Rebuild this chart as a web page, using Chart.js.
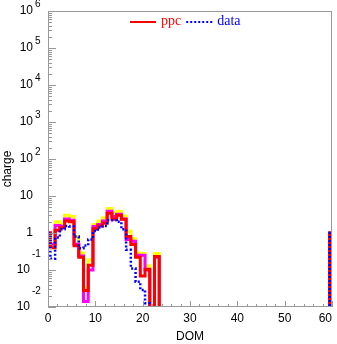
<!DOCTYPE html>
<html>
<head>
<meta charset="utf-8">
<script src="https://cdn.jsdelivr.net/npm/chart.js@4/dist/chart.umd.min.js"></script>
<style>
  html, body { margin: 0; padding: 0; background: #fff; }
</style>
</head>
<body>
<canvas id="chart" width="337" height="344"></canvas>
<script>
// charge per DOM (index = DOM number 0..60), 0 = empty bin
const ppc = [1.0, 0.4, 1.18, 1.39, 2.1, 2.0, 0.45, 0.22, 0.028, 0.135,
    1.31, 1.55, 1.83, 3.4, 2.34, 3.0, 2.34, 0.8, 0.49, 0.22,
    0.069, 0.105, 0, 0.23, 0, 0, 0, 0, 0, 0,
    0, 0, 0, 0, 0, 0, 0, 0, 0, 0,
    0, 0, 0, 0, 0, 0, 0, 0, 0, 0,
    0, 0, 0, 0, 0, 0, 0, 0, 0, 0,
    1.0];
const bandMagenta = [1.0, 0.5, 1.6, 1.5, 2.4, 2.2, 0.5, 0.24, 0.014, 0.1,
    1.5, 1.7, 2.1, 3.9, 2.8, 3.2, 2.4, 0.67, 0.6, 0.25,
    0.25, 0.1, 0, 0.22, 0, 0, 0, 0, 0, 0,
    0, 0, 0, 0, 0, 0, 0, 0, 0, 0,
    0, 0, 0, 0, 0, 0, 0, 0, 0, 0,
    0, 0, 0, 0, 0, 0, 0, 0, 0, 0,
    1.0];
const bandYellow = [1.0, 0.45, 2.0, 1.7, 3.0, 2.8, 0.8, 0.29, 0.033, 0.19,
    1.7, 2.1, 2.6, 4.6, 3.5, 3.9, 2.9, 1.13, 0.7, 0.29,
    0.28, 0.13, 0, 0.28, 0, 0, 0, 0, 0, 0,
    0, 0, 0, 0, 0, 0, 0, 0, 0, 0,
    0, 0, 0, 0, 0, 0, 0, 0, 0, 0,
    0, 0, 0, 0, 0, 0, 0, 0, 0, 0,
    1.0];
const data = [1.0, 0.2, 0.75, 1.26, 1.55, 1.5, 0.8, 0.39, 0.46, 0.67,
    1.13, 1.4, 1.55, 2.2, 2.2, 2.0, 1.26, 0.35, 0.11, 0.048,
    0.029, 0.0126, 0, 0, 0, 0, 0, 0, 0, 0,
    0, 0, 0, 0, 0, 0, 0, 0, 0, 0,
    0, 0, 0, 0, 0, 0, 0, 0, 0, 0,
    0, 0, 0, 0, 0, 0, 0, 0, 0, 0,
    1.0];

const xTicks = [0, 10, 20, 30, 40, 50, 60];
const yDecades = [-2, -1, 0, 1, 2, 3, 4, 5, 6];

const FLOOR = 1e-3; // empty bins drawn below the axis
function toPoints(arr) {
    return arr.map((v, i) => ({ x: i, y: v > 0 ? v : FLOOR }));
}

function histo(label, arr, color, width, dash, order, inLegend) {
    return {
        label: label,
        data: toPoints(arr),
        borderColor: color,
        borderWidth: width,
        borderDash: dash,
        stepped: 'middle',
        pointRadius: 0,
        fill: false,
        clip: 0,
        order: order,
        inLegend: inLegend
    };
}

const SANS = '"Liberation Sans", Arial, sans-serif';
const SERIF = '"Liberation Serif", "Times New Roman", serif';

// frame, inward ticks, tick labels, y title and legend in ROOT style
const rootStyle = {
    id: 'rootStyle',
    afterDraw(chart) {
        const { ctx, chartArea: a, scales: { x, y } } = chart;
        ctx.save();
        ctx.strokeStyle = '#999';
        ctx.lineWidth = 1;
        ctx.setLineDash([]);
        ctx.strokeRect(a.left + 0.5, a.top + 0.5, a.right - a.left - 1, a.bottom - a.top - 1);

        ctx.beginPath();
        for (let v = 0; v <= 60; v += 2) {
            const px = Math.round(x.getPixelForValue(v)) + 0.5;
            const len = v % 10 === 0 ? 6 : 3;
            ctx.moveTo(px, a.bottom);
            ctx.lineTo(px, a.bottom - len);
        }
        yDecades.forEach(e => {
            const py = Math.round(y.getPixelForValue(Math.pow(10, e))) + 0.5;
            ctx.moveTo(a.left, py);
            ctx.lineTo(a.left + 8, py);
            if (e < 6) {
                for (let m = 2; m <= 9; m++) {
                    const pm = Math.round(y.getPixelForValue(m * Math.pow(10, e))) + 0.5;
                    ctx.moveTo(a.left, pm);
                    ctx.lineTo(a.left + 4, pm);
                }
            }
        });
        ctx.stroke();

        // x tick labels
        ctx.fillStyle = '#000';
        ctx.font = '12px ' + SANS;
        ctx.textBaseline = 'middle';
        xTicks.forEach(v => {
            const px = x.getPixelForValue(v);
            const s = String(v);
            const w = ctx.measureText(s).width;
            ctx.textAlign = px + w / 2 > a.right ? 'right' : 'center';
            ctx.fillText(s, ctx.textAlign === 'right' ? a.right : px, 319);
        });

        // y tick labels: 1, 10, 10^n
        yDecades.forEach(e => {
            const py = y.getPixelForValue(Math.pow(10, e));
            ctx.font = '12px ' + SANS;
            ctx.textAlign = 'right';
            if (e === 0 || e === 1) {
                ctx.fillText(e === 0 ? '1' : '10', 33, py);
                return;
            }
            const baseRight = e > 0 ? 33 : 30;
            ctx.fillText('10', baseRight, py);
            ctx.font = '10px ' + SANS;
            ctx.textAlign = 'left';
            ctx.fillText(String(e), baseRight + 2, e > 0 ? py - 7 : py - 16);
        });

        // y title
        ctx.save();
        ctx.translate(8, 169);
        ctx.rotate(-Math.PI / 2);
        ctx.font = '12px ' + SANS;
        ctx.textAlign = 'center';
        ctx.textBaseline = 'middle';
        ctx.fillText('charge', 0, 0);
        ctx.restore();

        // legend
        const items = chart.data.datasets.filter(d => d.inLegend);
        let lx = 130;
        const ly = 22;
        items.forEach(d => {
            ctx.strokeStyle = d.borderColor;
            ctx.lineWidth = 2;
            ctx.setLineDash(d.borderDash || []);
            ctx.beginPath();
            ctx.moveTo(lx, ly);
            ctx.lineTo(lx + 26, ly);
            ctx.stroke();
            ctx.setLineDash([]);
            ctx.font = '14px ' + SERIF;
            ctx.fillStyle = d.borderColor;
            ctx.textAlign = 'left';
            ctx.textBaseline = 'alphabetic';
            ctx.fillText(d.label, lx + 31, ly + 3);
            lx += 31 + ctx.measureText(d.label).width + 5;
        });
        ctx.restore();
    }
};

new Chart(document.getElementById('chart'), {
    type: 'line',
    data: {
        datasets: [
            histo('band', bandYellow, '#ffff00', 3, [], 4, false),
            histo('band2', bandMagenta, '#ff00ff', 3, [], 3, false),
            histo('ppc', ppc, '#ff0000', 3, [], 2, true),
            histo('data', data, '#0000ff', 2.5, [2, 2], 1, true)
        ]
    },
    options: {
        responsive: false,
        animation: false,
        layout: { padding: { top: 11, right: 5, left: 0, bottom: 0 } },
        plugins: { legend: { display: false }, tooltip: { enabled: false } },
        scales: {
            x: {
                type: 'linear',
                min: 0,
                max: 60,
                grid: { display: false, drawTicks: false },
                border: { display: false },
                ticks: { display: false },
                title: { display: true, text: 'DOM', color: '#000', font: { family: SANS, size: 12 }, padding: 0 },
                afterFit(s) { s.height = 37; }
            },
            y: {
                type: 'logarithmic',
                min: 0.01,
                max: 1e6,
                grid: { display: false, drawTicks: false },
                border: { display: false },
                ticks: { display: false },
                afterFit(s) { s.width = 48; }
            }
        }
    },
    plugins: [rootStyle]
});
</script>
</body>
</html>
